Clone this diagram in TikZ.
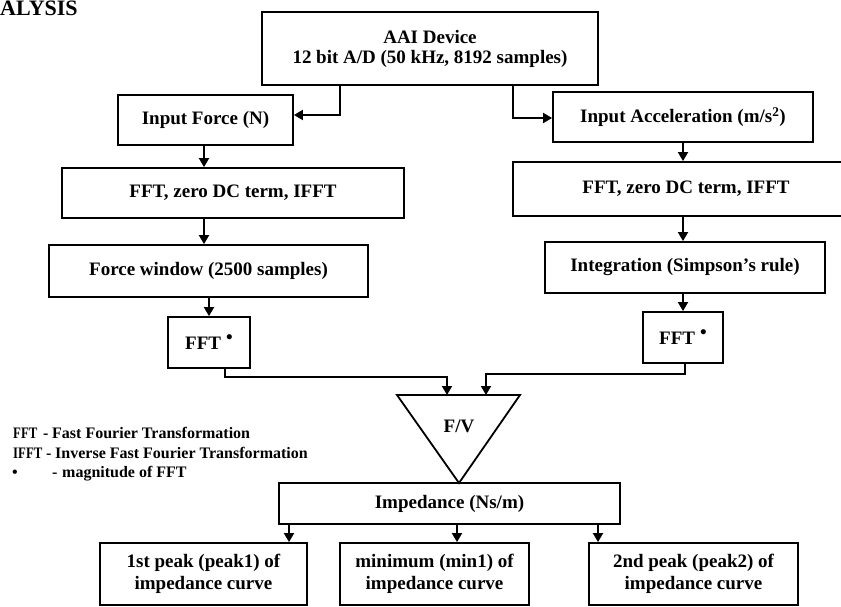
\documentclass[tikz,border=0pt]{standalone}
\usepackage{fontspec}
\usepackage{graphicx}
\setmainfont{Liberation Serif}
\usetikzlibrary{arrows.meta,calc}
\begin{document}
\begin{tikzpicture}[x=1pt,y=-1pt,
  box/.style={draw,line width=1.8pt,rectangle,inner sep=0pt,align=center,
    font=\bfseries\fontsize{19}{21}\selectfont},
  arr/.style={line width=1.8pt,-{Triangle[length=9pt,width=10pt]}},
  ln/.style={line width=1.8pt},
  leg/.style={anchor=base west,inner sep=0pt,font=\bfseries\fontsize{16}{18}\selectfont}]
\useasboundingbox (0,0) rectangle (841,607);

% heading fragment
\node[anchor=base west,inner sep=0pt,font=\bfseries\fontsize{22}{24}\selectfont] (head) at (0,16) {ALYSIS};

% boxes
\node[box,minimum width=336pt,minimum height=73pt] (aai) at (430,48.5) {AAI Device\\[-1pt]12 bit A/D (50 kHz, 8192 samples)};
\node[box,minimum width=175pt,minimum height=50pt] (inf) at (205.5,120) {Input Force (N)};
\node[box,minimum width=260pt,minimum height=50pt] (inacc) at (683,117) {Input Acceleration (m/s\textsuperscript{2})};
\node[box,minimum width=342pt,minimum height=50pt] (fftl) at (233,193) {FFT, zero DC term, IFFT};
\node[box,minimum width=346pt,minimum height=54pt] (fftr) at (686,189) {FFT, zero DC term, IFFT};
\node[box,minimum width=319pt,minimum height=52pt] (fw) at (208.5,271) {Force window (2500 samples)};
\node[box,minimum width=280pt,minimum height=51pt] (integ) at (685,267.5) {Integration (Simpson's rule)};
\node[box,minimum width=82pt,minimum height=51pt] (ffsl) at (209,342.5) {FFT\hspace{5pt}\raisebox{6pt}{\textbullet}};
\node[box,minimum width=80pt,minimum height=51pt] (ffsr) at (683,337.5) {FFT\hspace{5pt}\raisebox{6pt}{\textbullet}};

% triangle F/V
\coordinate (tl) at (397,395);
\coordinate (tr) at (520,395);
\coordinate (tb) at (459,483);
\draw[ln,line join=miter] (tl) -- (tr) -- (tb) -- cycle;
\node[font=\bfseries\fontsize{19}{21}\selectfont,inner sep=0pt] (fv) at (459,426) {F/V};

\node[box,minimum width=341pt,minimum height=41pt] (imp) at (449.5,503.5) {Impedance (Ns/m)};
\node[box,minimum width=207pt,minimum height=62pt,font=\bfseries\fontsize{19}{22}\selectfont] (b1) at (203.5,574) {1st peak (peak1) of\\impedance curve};
\node[box,minimum width=189pt,minimum height=62pt,font=\bfseries\fontsize{19}{22}\selectfont] (b2) at (434.5,574) {minimum (min1) of\\impedance curve};
\node[box,minimum width=209pt,minimum height=62pt,font=\bfseries\fontsize{19}{22}\selectfont] (b3) at (693.5,574) {2nd peak (peak2) of\\impedance curve};

% connectors
\coordinate (c1) at (340,115);
\coordinate (c2) at (513,118);
\draw[arr] (aai.south -| c1) -- (c1) -- (inf.east |- c1);
\draw[arr] (aai.south -| c2) -- (c2) -- (inacc.west |- c2);

\coordinate (xl) at (204,0);
\coordinate (xr) at (683,0);
\draw[arr] (inf.south -| xl) -- (fftl.north -| xl);
\draw[arr] (fftl.south -| xl) -- (fw.north -| xl);
\draw[arr] (fw.south -| ffsl) -- (ffsl.north);
\draw[arr] (inacc.south -| xr) -- (fftr.north -| xr);
\draw[arr] (fftr.south -| xr) -- (integ.north -| xr);
\draw[arr] (integ.south -| ffsr) -- (ffsr.north);

\coordinate (j1) at (225,377);
\coordinate (j2) at (447,377);
\coordinate (j3) at (685,374);
\coordinate (j4) at (486,374);
\draw[arr] (ffsl.south -| j1) -- (j1) -- (j2) -- (tl -| j2);
\draw[arr] (ffsr.south -| j3) -- (j3) -- (j4) -- (tl -| j4);

\coordinate (a1) at (289,0);
\coordinate (a2) at (457,0);
\coordinate (a3) at (598,0);
\draw[arr] (imp.south -| a1) -- (b1.north -| a1);
\draw[arr] (imp.south -| a2) -- (b2.north -| a2);
\draw[arr] (imp.south -| a3) -- (b3.north -| a3);

% legend
\node[leg] (l1a) at (13,438) {\scalebox{0.8}[1]{FFT}};
\node[leg] (l1b) at (43,438) {-};
\node[leg] (l1c) at (52,438) {Fast Fourier Transformation};
\node[leg] (l2a) at (13,458) {\scalebox{0.8}[1]{IFFT}};
\node[leg] (l2b) at (46,458) {-};
\node[leg] (l2c) at (55,458) {Inverse Fast Fourier Transformation};
\node[leg] (l3a) at (12,477) {\textbullet};
\node[leg] (l3b) at (52,477) {-};
\node[leg] (l3c) at (62,477) {magnitude of FFT};
\end{tikzpicture}
\end{document}
